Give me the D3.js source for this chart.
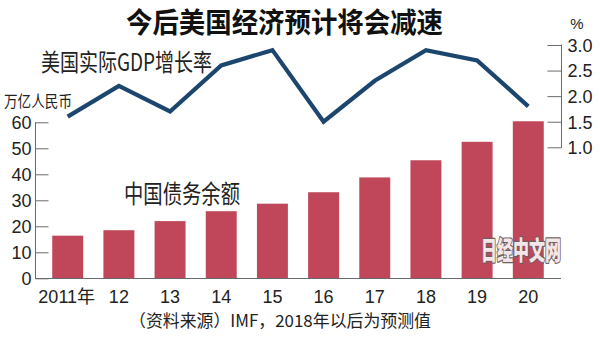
<!DOCTYPE html>
<html>
<head>
<meta charset="utf-8">
<script src="https://cdn.jsdelivr.net/npm/d3@7"></script>
<style>
  html, body { margin: 0; padding: 0; background: #fff; }
  svg { display: block; }
  text { font-family: "Liberation Sans", Arial, "Noto Sans CJK SC", sans-serif; }
  .cjk { font-family: "Noto Sans CJK SC", "Liberation Sans", sans-serif; }
</style>
</head>
<body>
<svg id="chart" width="600" height="337"></svg>
<script>
// Years on the category axis
const years = ["2011年", "12", "13", "14", "15", "16", "17", "18", "19", "20"];
// China debt outstanding, trillion yuan (bars)
const chinaDebt = [16.4, 18.5, 22.0, 25.8, 28.7, 33.1, 38.8, 45.4, 52.5, 60.4];
// US real GDP growth, % (line)
const usGrowth = [1.6, 2.2, 1.7, 2.6, 2.9, 1.5, 2.3, 2.9, 2.7, 1.8];
// Axis tick values
const debtTicks = [0, 10, 20, 30, 40, 50, 60];
const growthTicks = [1.0, 1.5, 2.0, 2.5, 3.0];

const svg = d3.select("#chart");
const axisColor = "#6b6b6b";
const textColor = "#222";

const x = d3.scaleBand().domain(years).range([42, 554]).paddingInner(0.395).paddingOuter(0.2);
const yDebt = d3.scaleLinear().domain([0, 60]).range([278.3, 122.3]);
const yGrowth = d3.scaleLinear().domain([1.0, 3.0]).range([147.3, 45]);

// Bars
svg.append("g").selectAll("rect").data(chinaDebt).join("rect")
  .attr("x", (d, i) => x(years[i]))
  .attr("width", x.bandwidth())
  .attr("y", d => yDebt(d))
  .attr("height", d => yDebt(0) - yDebt(d))
  .attr("fill", "#c0475a");

// Left axis (ticks point inward)
const leftAxis = d3.axisRight(yDebt).tickValues(debtTicks).tickSize(13).tickFormat(d3.format("d"));
const gl = svg.append("g").attr("transform", "translate(35.5,0)").call(leftAxis);
gl.select(".domain").remove();
gl.selectAll(".tick line").attr("stroke", axisColor);
gl.selectAll(".tick text").attr("x", -4).attr("text-anchor", "end")
  .attr("font-size", 18).style("fill", textColor).attr("dy", "0.35em");
svg.append("line").attr("x1", 35.5).attr("x2", 35.5).attr("y1", yDebt(60)).attr("y2", yDebt(0) + 0.5)
  .attr("stroke", axisColor);

// Baseline
svg.append("line").attr("x1", 35).attr("x2", 561).attr("y1", 278.5).attr("y2", 278.5).attr("stroke", axisColor);

// Category labels
const bottomAxis = d3.axisBottom(x).tickSize(0).tickPadding(0);
const gb = svg.append("g").attr("transform", "translate(0,278)").call(bottomAxis);
gb.select(".domain").remove();
gb.selectAll(".tick text").attr("y", 25).attr("dy", 0).attr("font-size", 18).style("fill", textColor)
  .style("font-family", "'Liberation Sans', 'Noto Sans CJK SC', sans-serif");
gb.selectAll(".tick text").filter(d => d === "2011年").attr("dx", -1);

// Right axis (ticks point inward)
const rightAxis = d3.axisLeft(yGrowth).tickValues(growthTicks).tickSize(14).tickFormat(d3.format(".1f"));
const gr = svg.append("g").attr("transform", "translate(561.5,0)").call(rightAxis);
gr.select(".domain").remove();
gr.selectAll(".tick line").attr("stroke", axisColor);
gr.selectAll(".tick text").attr("x", 6).attr("text-anchor", "start")
  .attr("font-size", 18).style("fill", textColor).attr("dy", "0.35em");
svg.append("line").attr("x1", 561.5).attr("x2", 561.5).attr("y1", yGrowth(3.0) - 0.5).attr("y2", yGrowth(1.0) + 0.5)
  .attr("stroke", axisColor);
svg.append("text").attr("x", 577).attr("y", 29).attr("text-anchor", "middle").attr("font-size", 15)
  .style("fill", textColor).text("%");

// GDP growth line
const line = d3.line()
  .x((d, i) => x(years[i]) + x.bandwidth() / 2)
  .y(d => yGrowth(d));
svg.append("path").datum(usGrowth)
  .attr("d", line)
  .attr("fill", "none")
  .attr("stroke", "#1d466f")
  .attr("stroke-width", 4.2)
  .attr("stroke-linejoin", "miter");

// Titles and labels
function label(txt, x0, y0, size, len, weight, color) {
  return svg.append("text").attr("class", "cjk")
    .attr("x", x0).attr("y", y0)
    .attr("font-size", size)
    .attr("font-weight", weight || "normal")
    .attr("textLength", len).attr("lengthAdjust", "spacingAndGlyphs")
    .style("fill", color || textColor)
    .text(txt);
}
label("今后美国经济预计将会减速", 126, 33, 28, 317, "bold", "#111");
label("美国实际GDP增长率", 41, 71, 24, 171);
label("万亿人民币", 4, 107, 16, 68);
label("中国债务余额", 124, 203, 25, 116);
label("（资料来源）IMF，2018年以后为预测值", 129, 327, 17, 302);

// Watermark
svg.append("text").attr("class", "cjk")
  .attr("x", 481).attr("y", 260)
  .attr("font-size", 26).attr("font-weight", "900")
  .attr("textLength", 80).attr("lengthAdjust", "spacingAndGlyphs")
  .style("fill", "#f4e6e8").style("stroke", "#6d5e60").style("stroke-width", "2.4px")
  .style("stroke-linejoin", "round").style("paint-order", "stroke")
  .text("日经中文网");
</script>
</body>
</html>
